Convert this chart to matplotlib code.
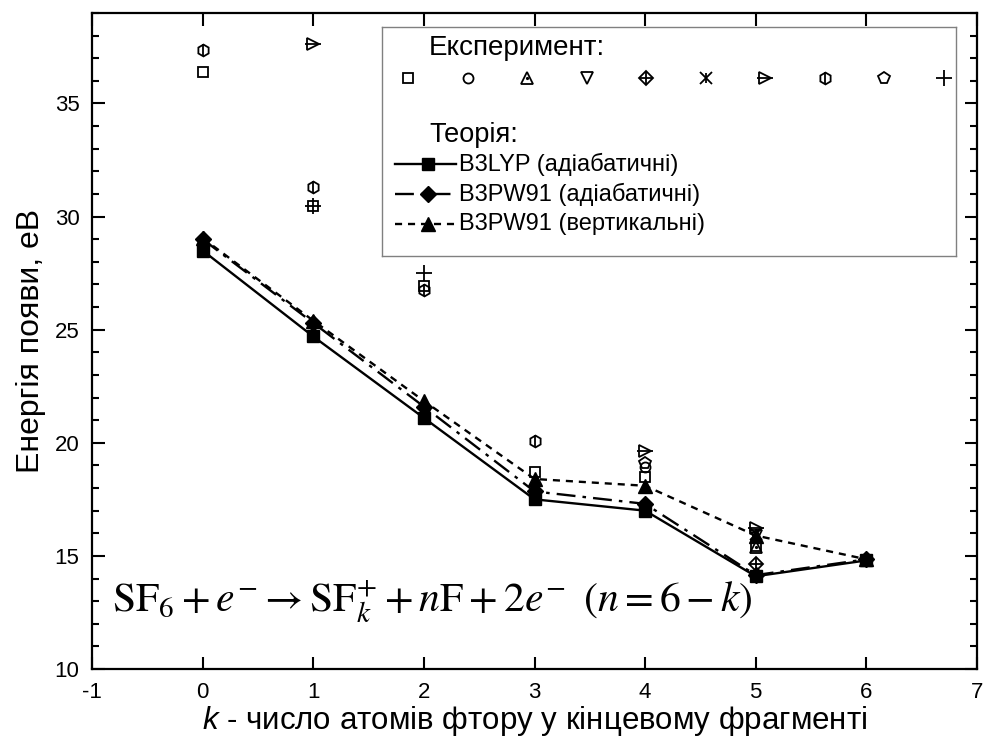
import matplotlib
matplotlib.use("Agg")
import matplotlib.pyplot as plt

plt.rcParams['font.family'] = ['Liberation Sans', 'DejaVu Sans']
plt.rcParams['mathtext.fontset'] = 'custom'
plt.rcParams['mathtext.it'] = 'Liberation Sans:italic'
plt.rcParams['mathtext.rm'] = 'Liberation Sans'
plt.rcParams['axes.unicode_minus'] = False

# ---------------- data ----------------
k = [0, 1, 2, 3, 4, 5, 6]
b3lyp_adiab = [28.5, 24.7, 21.1, 17.5, 17.0, 14.1, 14.8]
b3pw91_adiab = [29.0, 25.3, 21.6, 17.85, 17.3, 14.15, 14.85]
b3pw91_vert = [29.05, 25.4, 21.85, 18.4, 18.1, 15.9, 14.85]

exp_square_k = [0, 1, 2, 3, 4, 5]
exp_square_v = [36.4, 30.45, 26.95, 18.7, 18.5, 15.45]
exp_circle_k = [4]
exp_circle_v = [18.95]
exp_tri_up_k = [5]
exp_tri_up_v = [15.4]
exp_tri_down_k = [5]
exp_tri_down_v = [15.9]
exp_diamond_k = [5]
exp_diamond_v = [14.65]
exp_x_k = [5]
exp_x_v = [15.95]
exp_tri_right_k = [1, 4, 5]
exp_tri_right_v = [37.65, 19.65, 16.25]
exp_hex_k = [0, 1, 2, 3]
exp_hex_v = [37.35, 31.3, 26.75, 20.1]
exp_pent_k = [4]
exp_pent_v = [19.1]
exp_plus_k = [1, 2]
exp_plus_v = [30.45, 27.5]

theory_labels = ["B3LYP (адіабатичні)", "B3PW91 (адіабатичні)", "B3PW91 (вертикальні)"]

# ---------------- figure ----------------
fig = plt.figure(figsize=(9.83, 7.44), dpi=100)
ax = fig.add_axes([92/983, 1-669/744, (977-92)/983, (669-13)/744])

ms = 8.5
mew = 1.3

def exp_marker(a, xs, ys, kind, **kw):
    base = dict(linestyle='none', color='black', mfc='none', mec='black',
                mew=mew, ms=ms, clip_on=False, **kw)
    if kind == 'square':
        a.plot(xs, ys, marker='s', **{**base, 'ms': ms*0.85})
    elif kind == 'circle':
        a.plot(xs, ys, marker='o', **{**base, 'ms': ms*0.85})
    elif kind == 'tri_up':
        a.plot(xs, ys, marker='^', **base)
        a.plot(xs, ys, marker='.', **{**base, 'ms': 2, 'mfc': 'black'})
    elif kind == 'tri_down':
        a.plot(xs, ys, marker='v', **base)
    elif kind == 'diamond':
        a.plot(xs, ys, marker='D', **{**base, 'ms': ms*0.8})
        a.plot(xs, ys, marker='+', **{**base, 'ms': ms*1.1})
    elif kind == 'x':
        a.plot(xs, ys, marker='x', **base)
        a.plot(xs, ys, marker='|', **{**base, 'ms': ms*0.9})
    elif kind == 'tri_right':
        a.plot(xs, ys, marker='>', **base)
        a.plot(xs, ys, marker='_', **{**base, 'ms': ms*1.3})
    elif kind == 'hex':
        a.plot(xs, ys, marker='h', **base)
        a.plot(xs, ys, marker='|', **{**base, 'ms': ms*0.95})
    elif kind == 'pent':
        a.plot(xs, ys, marker='p', **base)
    elif kind == 'plus':
        a.plot(xs, ys, marker='+', **{**base, 'ms': ms*1.3})

# theory lines
lw = 1.7
ls_dashdot = (0, (8, 3, 1.5, 3))
ls_dash = (0, (3, 2.5))
ax.plot(k, b3lyp_adiab, color='black', lw=lw, ls='-', marker='s', ms=8.5, mfc='black', zorder=3)
ax.plot(k, b3pw91_adiab, color='black', lw=lw, ls=ls_dashdot, marker='D', ms=8.5, mfc='black', zorder=3)
ax.plot(k, b3pw91_vert, color='black', lw=lw, ls=ls_dash, marker='^', ms=9.5, mfc='black', zorder=3)

# experiment
exp_sets = [
    ('square', exp_square_k, exp_square_v),
    ('circle', exp_circle_k, exp_circle_v),
    ('tri_up', exp_tri_up_k, exp_tri_up_v),
    ('tri_down', exp_tri_down_k, exp_tri_down_v),
    ('diamond', exp_diamond_k, exp_diamond_v),
    ('x', exp_x_k, exp_x_v),
    ('tri_right', exp_tri_right_k, exp_tri_right_v),
    ('hex', exp_hex_k, exp_hex_v),
    ('pent', exp_pent_k, exp_pent_v),
    ('plus', exp_plus_k, exp_plus_v),
]
for kind, xs, ys in exp_sets:
    exp_marker(ax, xs, ys, kind, zorder=4)

ax.set_xlim(-1, 7)
ax.set_ylim(10, 39)
ax.set_xticks(range(-1, 8))
ax.set_yticks([10, 15, 20, 25, 30, 35])
ax.set_yticks(range(10, 40), minor=True)
ax.tick_params(which='both', direction='in', top=True, right=True, labelsize=16, width=1.5)
ax.tick_params(which='major', length=9, pad=9)
ax.tick_params(which='minor', length=5)
ax.tick_params(axis='x', which='minor', bottom=False, top=False)
for s in ax.spines.values():
    s.set_linewidth(1.6)

ax.set_ylabel("Енергія появи, еВ", fontsize=23, labelpad=6)
ax.set_xlabel(r"$k$ - число атомів фтору у кінцевому фрагменті", fontsize=22.5, labelpad=1)

ax.text(0.023, 0.103,
        r"$\mathrm{SF}_6 + e^{-} \rightarrow \mathrm{SF}_k^{+} + n\mathrm{F} + 2e^{-}\;\;(n = 6 - k)$",
        transform=ax.transAxes, fontsize=30, math_fontfamily='stix', va='center', ha='left')

# ---------------- legend box (manual) ----------------
L, R, T, B = 382, 956, 27, 256
lax = fig.add_axes([L/983, 1-B/744, (R-L)/983, (B-T)/744])
lax.set_xlim(0, R-L)
lax.set_ylim(B-T, 0)
lax.set_xticks([]); lax.set_yticks([])
for s in lax.spines.values():
    s.set_color('#808080'); s.set_linewidth(1.0)

lax.text(47, 21, "Експеримент:", fontsize=20, va='center', ha='left')
for i, (kind, _, _) in enumerate(exp_sets):
    exp_marker(lax, [26 + i*59.5], [51], kind)
lax.text(47, 108, "Теорія:", fontsize=19.5, va='center', ha='left')
ys_leg = [137, 167, 197]
styles = [dict(ls='-', marker='s', ms=8.5), dict(ls=ls_dashdot, marker='D', ms=8.5),
          dict(ls=ls_dash, marker='^', ms=9.5)]
for y, st, lab in zip(ys_leg, styles, theory_labels):
    lax.plot([13, 74], [y, y], color='black', lw=lw, ls=st['ls'])
    lax.plot([46], [y], color='black', marker=st['marker'], ms=st['ms'], mfc='black', ls='none')
    lax.text(77, y, lab, fontsize=17, va='center', ha='left')

fig.savefig("out.png", dpi=100)
